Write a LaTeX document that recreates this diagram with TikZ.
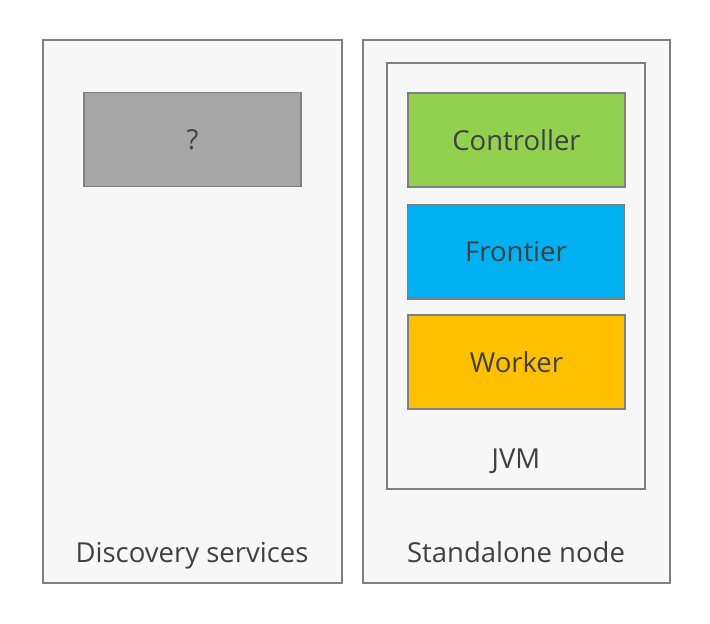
\documentclass[tikz,border=0pt]{standalone}
\usepackage{fontspec}
\setmainfont{Open Sans}
\usetikzlibrary{positioning}

\definecolor{boxgray}{HTML}{F7F7F7}
\definecolor{linegray}{HTML}{808080}
\definecolor{txtgray}{HTML}{404040}
\definecolor{unknowngray}{HTML}{A6A6A6}
\definecolor{ctrlgreen}{HTML}{92D050}
\definecolor{frontblue}{HTML}{00B0F0}
\definecolor{workyellow}{HTML}{FFC000}

\tikzset{
  every node/.style={text=txtgray, font=\fontsize{27.5}{32}\selectfont},
  frame/.style={draw=linegray, line width=1.5pt, fill=boxgray},
  unit/.style={draw=linegray, line width=1.5pt, minimum width=217pt, minimum height=94pt, inner sep=0pt}
}

\begin{document}
\begin{tikzpicture}[x=1pt,y=-1pt]
  \useasboundingbox (0,0) rectangle (710,624);
  \draw[frame] (43,40) rectangle (342,583);
  \draw[frame] (363,40) rectangle (670,583);
  \draw[frame] (387,63) rectangle (645,489);
  \node[unit, fill=unknowngray] (unknown) at (192.5,139.5) {?};
  \node[unit, fill=ctrlgreen] (controller) at (516.5,140) {Controller};
  \node[unit, fill=frontblue] (frontier) at (516,252) {Frontier};
  \node[unit, fill=workyellow] (worker) at (516.5,362) {Worker};
  \node[anchor=base] (jvm) at (516,468) {JVM};
  \node[anchor=base] (discovery) at (192,562) {Discovery services};
  \node[anchor=base] (standalone) at (516,562) {Standalone node};
\end{tikzpicture}
\end{document}
